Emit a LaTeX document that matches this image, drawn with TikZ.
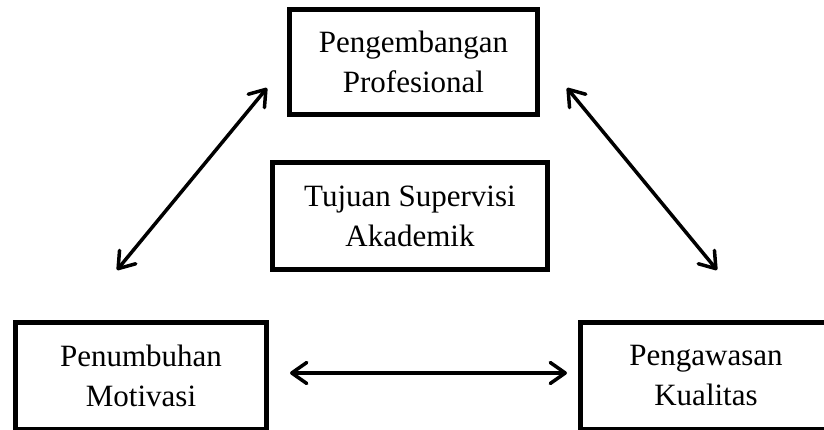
\documentclass[tikz,border=0pt]{standalone}
\usepackage{fontspec}
\setmainfont{Liberation Serif}
\usetikzlibrary{arrows.meta}
\begin{document}
\begin{tikzpicture}
[
    x=1pt, y=-1pt,
    box/.style={draw, line width=5pt, align=center, inner sep=0pt,
        font=\fontsize{31}{40}\selectfont},
    link/.style={line width=3.5pt,
        {Straight Barb[length=15pt,width=21pt,round]}-{Straight Barb[length=15pt,width=21pt,round]}},
]
\clip (0,0) rectangle (824,430);
\node[box, minimum width=248pt, minimum height=105pt] (pengembangan) at (413.5,62) {Pengembangan\\Profesional};
\node[box, minimum width=275pt, minimum height=107pt] (tujuan) at (410,216) {Tujuan Supervisi\\Akademik};
\node[box, minimum width=251pt, minimum height=107pt] (penumbuhan) at (141,376) {Penumbuhan\\Motivasi};
\node[box, minimum width=251pt, minimum height=107pt] (pengawasan) at (706,376) {Pengawasan\\Kualitas};
\draw[link] ([shift={(-24,-50)}]penumbuhan.north) -- ([shift={(-20,-29)}]pengembangan.south west);
\draw[link] ([shift={(27,-29)}]pengembangan.south east) -- ([shift={(11,-50)}]pengawasan.north);
\draw[link] ([shift={(21,-3)}]penumbuhan.east) -- ([shift={(-11,-3)}]pengawasan.west);
\end{tikzpicture}
\end{document}
